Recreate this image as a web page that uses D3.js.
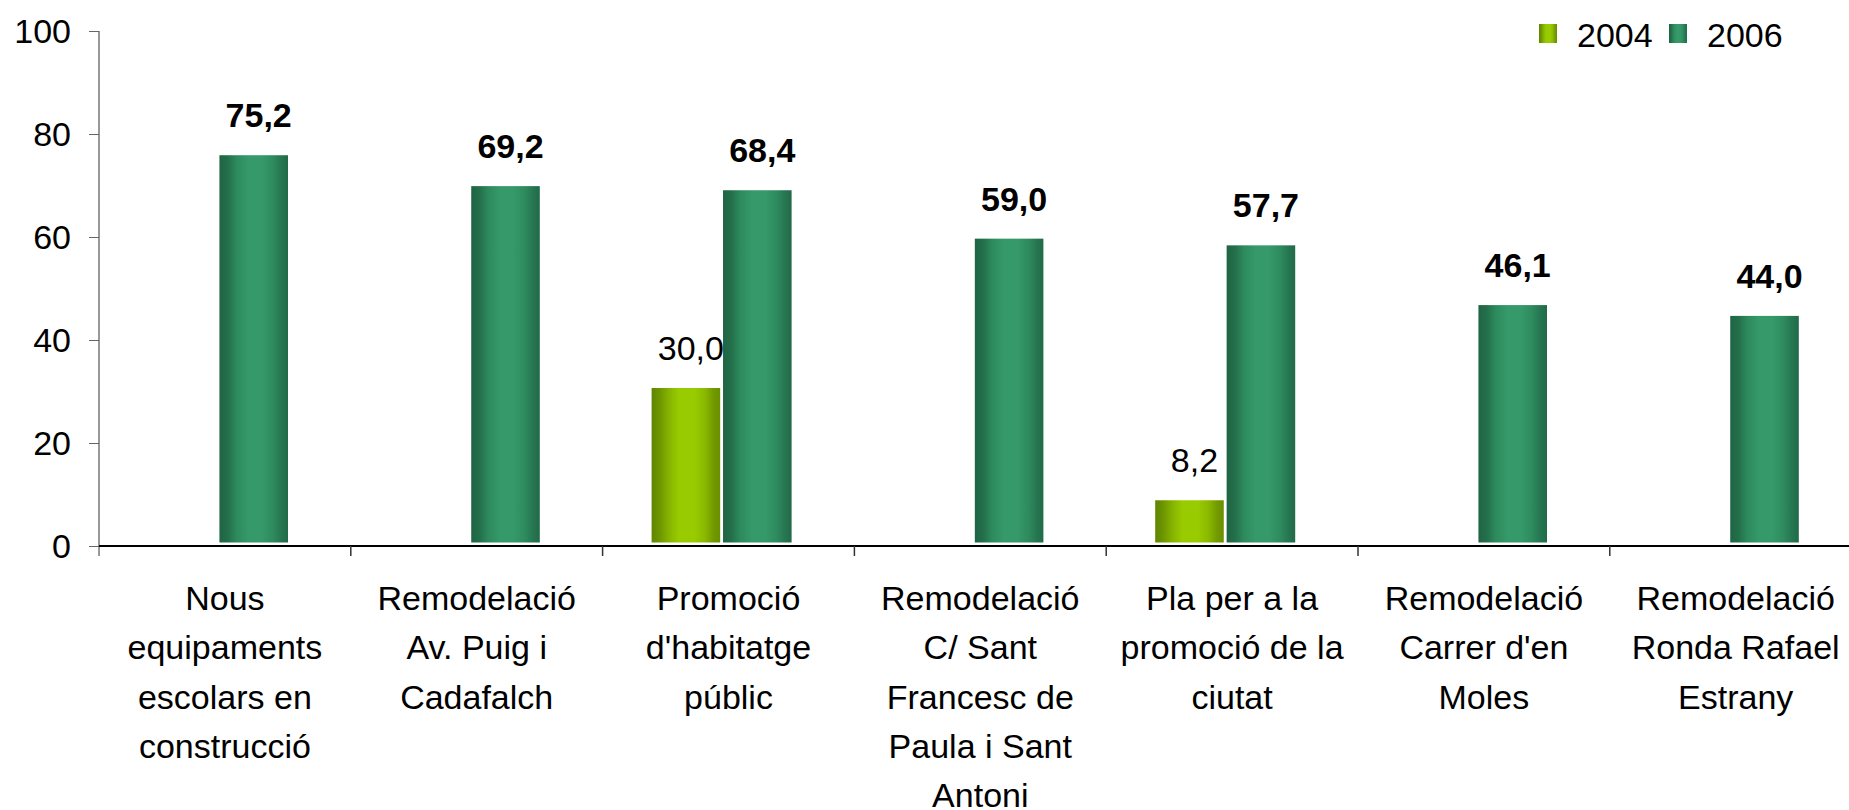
<!DOCTYPE html>
<html>
<head>
<meta charset="utf-8">
<script src="https://d3js.org/d3.v7.min.js"></script>
<style>
  body { margin: 0; background: #fff; }
  svg text { font-family: "Liberation Sans", Arial, sans-serif; fill: #000; }
</style>
</head>
<body>
<div id="graph"></div>
<script>
// chart values
const categories = [
  "Nous\nequipaments\nescolars en\nconstrucció",
  "Remodelació\nAv. Puig i\nCadafalch",
  "Promoció\nd'habitatge\npúblic",
  "Remodelació\nC/ Sant\nFrancesc de\nPaula i Sant\nAntoni",
  "Pla per a la\npromoció de la\nciutat",
  "Remodelació\nCarrer d'en\nMoles",
  "Remodelació\nRonda Rafael\nEstrany"
]
const seriesNames = ["2004", "2006"]
const values2004 = [null, null, 30.0, null, 8.2, null, null]
const values2006 = [75.2, 69.2, 68.4, 59.0, 57.7, 46.1, 44.0]
const yTicks = [0, 20, 40, 60, 80, 100]

const W = 1849, H = 810
const plotLeft = 99, plotBottom = 546, plotTop = 31
const catStep = 251.8

const svg = d3.select("#graph").append("svg")
    .attr("width", W)
    .attr("height", H)

// bar gradients
const defs = svg.append("defs")
const gradStops = {
  "2004": [["0%", "#5f8500"], ["12%", "#6e9600"], ["25%", "#86b300"], ["40%", "#99cc00"], ["62%", "#99cc00"], ["78%", "#8ab800"], ["90%", "#739a00"], ["100%", "#6a8f00"]],
  "2006": [["0%", "#1f6443"], ["12%", "#236f4b"], ["25%", "#2d8a5d"], ["42%", "#35996a"], ["62%", "#35996a"], ["78%", "#2e8b5e"], ["90%", "#267652"], ["100%", "#216a47"]]
}
seriesNames.forEach(s => {
  const g = defs.append("linearGradient")
      .attr("id", "grad" + s)
      .attr("x1", "0%").attr("x2", "100%").attr("y1", "0%").attr("y2", "0%")
  gradStops[s].forEach(st => g.append("stop").attr("offset", st[0]).attr("stop-color", st[1]))
})

const x0 = d3.scaleBand()
    .domain(categories)
    .range([plotLeft, plotLeft + catStep * categories.length])
    .paddingInner(0)

const x1 = d3.scaleBand()
    .domain(seriesNames)
    .range([49, 189])
    .paddingInner(0.04)

const y = d3.scaleLinear()
    .domain([0, 100])
    .range([plotBottom, plotTop])

// y axis
const yAxis = svg.append("g")
    .attr("transform", `translate(${plotLeft},0)`)
    .call(d3.axisLeft(y).tickValues(yTicks).tickSize(10).tickPadding(18).tickFormat(d3.format("d")))
yAxis.select(".domain").attr("stroke", "#333").attr("d", `M0,${plotTop}V${plotBottom + 10}`)
yAxis.selectAll(".tick line").attr("stroke", "#666")
yAxis.selectAll(".tick text").style("font-size", "34px").attr("dy", "0.33em")

// x axis line and separators
const xg = svg.append("g")
xg.append("line")
    .attr("x1", plotLeft).attr("x2", x0.range()[1])
    .attr("y1", plotBottom).attr("y2", plotBottom)
    .attr("stroke", "#000").attr("stroke-width", 2)
xg.selectAll("line.sep")
    .data(categories.slice(1))
    .enter().append("line")
    .attr("class", "sep")
    .attr("x1", d => x0(d)).attr("x2", d => x0(d))
    .attr("y1", plotBottom).attr("y2", plotBottom + 10)
    .attr("stroke", "#333").attr("stroke-width", 1.5)

// category labels
const catLabels = svg.append("g").selectAll("text")
    .data(categories)
    .enter().append("text")
    .attr("text-anchor", "middle")
    .style("font-size", "34px")
catLabels.selectAll("tspan")
    .data(d => d.split("\n").map(line => ({ line, cat: d })))
    .enter().append("tspan")
    .attr("x", d => x0(d.cat) + x0.bandwidth() / 2)
    .attr("y", (d, i) => 610 + i * 49.3)
    .text(d => d.line)

// bars
const rows = categories.map((c, i) => ({ cat: c, vals: [
  { s: "2004", v: values2004[i] },
  { s: "2006", v: values2006[i] }
].filter(d => d.v !== null) }))

const groups = svg.append("g").selectAll("g")
    .data(rows)
    .enter().append("g")
    .attr("transform", d => `translate(${x0(d.cat)},-3.5)`)

groups.selectAll("rect")
    .data(d => d.vals)
    .enter().append("rect")
    .attr("x", d => x1(d.s))
    .attr("width", x1.bandwidth())
    .attr("y", d => y(d.v))
    .attr("height", d => y(0) - y(d.v))
    .attr("fill", d => `url(#grad${d.s})`)

const fmt = v => d3.format(".1f")(v).replace(".", ",")
groups.selectAll("text")
    .data(d => d.vals)
    .enter().append("text")
    .attr("x", d => x1(d.s) + x1.bandwidth() / 2 + 5)
    .attr("y", d => y(d.v) - 28)
    .attr("text-anchor", "middle")
    .style("font-size", "34px")
    .style("font-weight", d => d.s === "2006" ? "bold" : "normal")
    .text(d => fmt(d.v))

// legend
const legend = svg.append("g").selectAll("g")
    .data(seriesNames)
    .enter().append("g")
    .attr("transform", (d, i) => `translate(${1539 + i * 130},24)`)
legend.append("rect")
    .attr("width", 18).attr("height", 19)
    .attr("fill", d => `url(#grad${d})`)
legend.append("text")
    .attr("x", 38).attr("y", 22.5)
    .style("font-size", "34px")
    .text(d => d)
</script>
</body>
</html>
